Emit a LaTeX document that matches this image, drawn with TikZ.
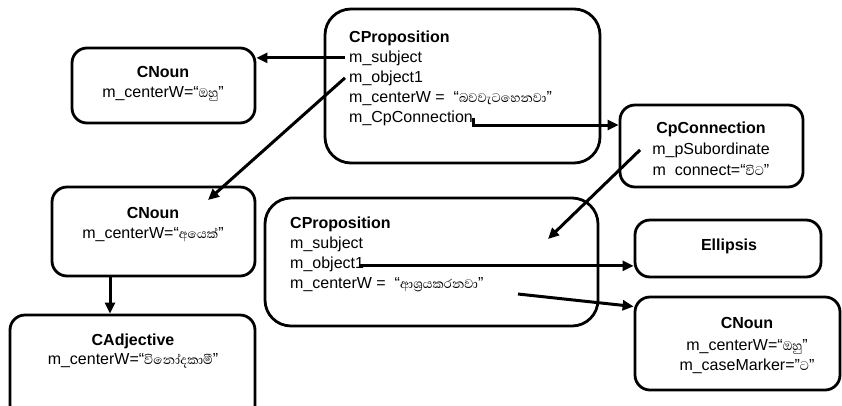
\documentclass[tikz,border=0pt]{standalone}
\usepackage{fontspec}
\setmainfont{Liberation Sans}
\newfontfamily\sinhfont[Script=Sinhala]{Abhaya Libre}
\usetikzlibrary{arrows.meta}
\newcommand\sinhw[1]{{\sinhfont\fontsize{16}{20}\selectfont #1}}
\begin{document}
\begin{tikzpicture}[x=1pt,y=-1pt,
  box/.style={draw, line width=2.8pt, rounded corners=15pt, inner sep=0pt},
  bigbox/.style={box, rounded corners=26pt},
  lbl/.style={anchor=base, inner sep=0pt, font=\fontsize{16}{20}\selectfont},
  ttl/.style={lbl, font=\fontsize{16}{20}\selectfont\bfseries},
  lft/.style={anchor=base west, inner sep=0pt, font=\fontsize{16}{20}\selectfont},
  lftb/.style={lft, font=\fontsize{16}{20}\selectfont\bfseries},
  arr/.style={line width=3pt, -{Triangle[length=11pt,width=10pt]}}]
\useasboundingbox (0,0) rectangle (842,405);
\begin{scope}
\clip (0,0) rectangle (842,405);
% boxes
\node[box, minimum width=183pt, minimum height=75pt] (n1) at (163.5,85.5) {};
\node[bigbox, minimum width=275pt, minimum height=154pt] (p1) at (462.5,86) {};
\node[box, minimum width=183pt, minimum height=82pt] (cc) at (711.5,146) {};
\node[box, minimum width=203pt, minimum height=89pt] (n2) at (153.5,231.5) {};
\node[bigbox, minimum width=333pt, minimum height=128pt] (p2) at (431.5,262) {};
\node[box, minimum width=186pt, minimum height=57pt] (el) at (728,248.5) {};
\node[box, minimum width=205pt, minimum height=93pt] (n3) at (737.5,343.5) {};
\node[box, minimum width=245pt, minimum height=105pt] (ad) at (132.5,367.5) {};
\end{scope}
% texts
\node[ttl] (n1t) at (163,77) {CNoun};
\node[lbl] (n1c) at (163,97) {m\_centerW=“\sinhw{ඔහු}”};

\node[lftb] (p1t) at (349,42) {CProposition};
\node[lft] (p1s) at (349,62) {m\_subject};
\node[lft] (p1o) at (349,82) {m\_object1};
\node[lft] (p1w) at (349,102) {m\_centerW =\ \ “\sinhw{බවවැටහෙනවා}”};
\node[lft] (p1c) at (349,122) {m\_CpConnection};

\node[ttl] (cct) at (711,133) {CpConnection};
\node[lbl] (ccs) at (711,154) {m\_pSubordinate};
\node[lbl] (ccc) at (711,175) {m\ \ connect=“\sinhw{විට}”};

\node[ttl] (n2t) at (153,218) {CNoun};
\node[lbl] (n2c) at (153,238) {m\_centerW=“\sinhw{අයෙක්}”};

\node[lftb] (p2t) at (290,228) {CProposition};
\node[lft] (p2s) at (290,248) {m\_subject};
\node[lft] (p2o) at (290,268) {m\_object1};
\node[lft] (p2w) at (290,288) {m\_centerW =\ \ “\sinhw{ආශ්‍රයකරනවා}”};

\node[ttl] (elt) at (729,250) {Ellipsis};

\node[ttl] (n3t) at (747,328) {CNoun};
\node[lbl] (n3c) at (747,350) {m\_centerW=“\sinhw{ඔහු}”};
\node[lbl] (n3m) at (747,370) {m\_caseMarker=”\sinhw{ට}”};

\node[ttl] (adt) at (133,345) {CAdjective};
\node[lbl] (adc) at (133,364) {m\_centerW=“\sinhw{විනෝදකාමී}”};

% connectors
\coordinate (n2in) at (208,200);
\coordinate (p2in) at (548,239);
\coordinate (s6) at (518,294);
\coordinate (s5) at ([xshift=-5pt,yshift=-2pt]p2o.east);
\draw[arr] ([xshift=-4pt]p1s.west) -- (p1s.west -| n1.east);
\draw[arr] ([xshift=-4pt]p1o.west) -- (n2in);
\draw[arr] (p1c.east) |- ([yshift=21pt]cc.west);
\draw[arr] ([xshift=-12pt]ccs.west) -- (p2in);
\draw[arr] (s5) -- (s5 -| el.west);
\draw[arr] (s6) -- ([yshift=37pt]n3.west);
\draw[arr] ([xshift=-43.5pt]n2.south) -- ([xshift=-43.5pt]n2.south |- ad.north);
\end{tikzpicture}
\end{document}
